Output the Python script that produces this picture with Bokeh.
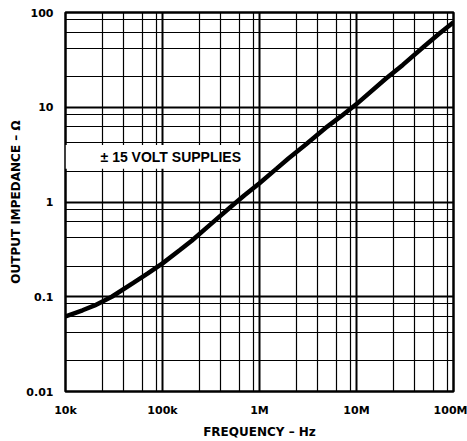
from bokeh.plotting import figure
from bokeh.models import FixedTicker, Label
from bokeh.embed import file_html
from bokeh.resources import INLINE

# Data
freq_hz = [1e4, 1.5e4, 2e4, 3e4, 5e4, 7e4, 1e5, 1.5e5, 2e5, 3e5, 5e5, 7e5,
           1e6, 1.5e6, 2e6, 3e6, 5e6, 7e6, 1e7, 2e7, 3e7, 5e7, 7e7, 1e8]
impedance_ohm = [0.062, 0.072, 0.081, 0.100, 0.140, 0.175, 0.225, 0.31, 0.39, 0.56, 0.88, 1.18,
                 1.58, 2.25, 2.9, 4.05, 6.25, 8.1, 10.8, 20.0, 28.0, 44.0, 59.0, 79.0]

x_major = [1e4, 1e5, 1e6, 1e7, 1e8]
x_major_labels = ["10k", "100k", "1M", "10M", "100M"]
x_minor_mult = [2.4, 4.0, 6.2, 8.6]

y_major = [0.01, 0.1, 1, 10, 100]
y_major_labels = ["0.01", "0.1", "1", "10", "100"]
y_minor_mult = [2.1, 4.2, 6.2, 8.4]

note_text = "\u00b1 15 VOLT SUPPLIES"
note_pos = (2.3e4, 3.0)
note_box = dict(left=1e4, right=7.2e5, bottom=2.25, top=4.0)

x_minor = [d * m for d in x_major[:-1] for m in x_minor_mult]
y_minor = [d * m for d in y_major[:-1] for m in y_minor_mult]

p = figure(width=467, height=441, x_axis_type="log", y_axis_type="log",
           x_range=(1e4, 1e8), y_range=(0.01, 100),
           output_backend="svg", toolbar_location=None,
           min_border_left=65, min_border_right=14, min_border_top=12, min_border_bottom=46)

p.background_fill_color = "white"
p.border_fill_color = "white"
p.outline_line_color = "black"
p.outline_line_width = 2.5

p.xaxis.ticker = FixedTicker(ticks=x_major, minor_ticks=x_minor)
p.yaxis.ticker = FixedTicker(ticks=y_major, minor_ticks=y_minor)
p.xaxis.major_label_overrides = {v: s for v, s in zip(x_major, x_major_labels)}
p.yaxis.major_label_overrides = {v: s for v, s in zip(y_major, y_major_labels)}

for g in (p.xgrid, p.ygrid):
    g.grid_line_color = "black"
    g.grid_line_width = 2
    g.grid_line_alpha = 1
    g.minor_grid_line_color = "black"
    g.minor_grid_line_width = 1.2

for ax in (p.xaxis, p.yaxis):
    ax.axis_line_color = None
    ax.major_tick_line_color = None
    ax.minor_tick_line_color = None
    ax.major_tick_out = 0
    ax.major_tick_in = 0
    ax.minor_tick_out = 0
    ax.minor_tick_in = 0
    ax.major_label_text_font = "DejaVu Sans"
    ax.major_label_text_font_style = "bold"
    ax.major_label_text_font_size = "11px"
    ax.major_label_text_color = "black"
    ax.axis_label_text_font = "DejaVu Sans"
    ax.axis_label_text_font_style = "bold"
    ax.axis_label_text_font_size = "12px"
    ax.axis_label_text_color = "black"

p.xaxis.axis_label = "FREQUENCY \u2013 Hz"
p.yaxis.axis_label = "OUTPUT IMPEDANCE \u2013 \u03a9"
p.xaxis.major_label_standoff = 12
p.xaxis.axis_label_standoff = 5
p.yaxis.major_label_standoff = 12
p.yaxis.axis_label_standoff = 0

p.quad(left=[note_box["left"]], right=[note_box["right"]],
       bottom=[note_box["bottom"]], top=[note_box["top"]],
       fill_color="white", line_color=None)

p.add_layout(Label(x=note_pos[0], y=note_pos[1], text=note_text,
                   text_font="Liberation Sans", text_font_style="bold",
                   text_font_size="14px", text_baseline="middle", text_color="black"))

p.line(freq_hz, impedance_ohm, line_color="black", line_width=4.5)

open("out.html", "w").write(file_html(p, INLINE))
